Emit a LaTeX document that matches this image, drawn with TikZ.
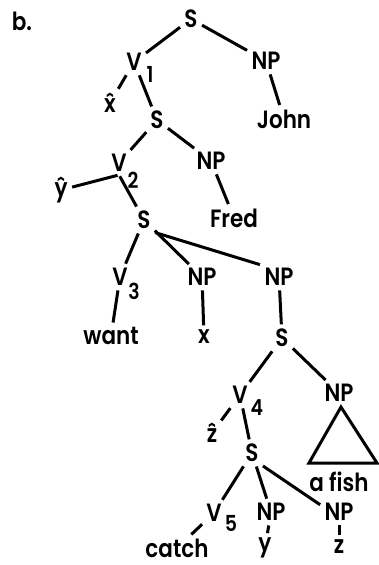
\documentclass[tikz,border=0pt]{standalone}
\usepackage{fontspec}
\setmainfont{Poppins SemiBold}[FakeStretch=0.86]
\newcommand{\hatted}[1]{\accent"02C6 #1}
\begin{document}
\begin{tikzpicture}[x=1pt,y=-1pt,
  lab/.style={inner sep=3pt,font=\fontsize{25}{27}\selectfont},
  sub/.style={inner sep=1pt,font=\fontsize{22}{24}\selectfont},
  edge/.style={line width=3pt,shorten <=1.5pt,shorten >=1.5pt}]
\useasboundingbox (0,0) rectangle (379,565);
\node[lab] (b) at (22,21) {b.};
\node[lab] (s1) at (191,19) {S};
\node[lab] (v1) at (134,62) {V};
\node[sub] (v1s) at (150,74) {1};
\node[lab] (np1) at (266,61) {NP};
\node[lab] (xh) at (110,103) {\hatted{x}};
\node[lab] (john) at (284,119) {John};
\node[lab] (s2) at (157,120) {S};
\node[lab] (v2) at (119,163) {V};
\node[sub] (v2s) at (133,180) {2};
\node[lab] (np2) at (211,161) {NP};
\node[lab] (yh) at (61,190) {\hatted{y}};
\node[lab] (fred) at (234,218) {Fred};
\node[lab] (s3) at (144,220) {S};
\node[lab] (v3) at (120,277) {V};
\node[sub] (v3s) at (134,291) {3};
\node[lab] (np3) at (202,277) {NP};
\node[lab] (np4) at (279,277) {NP};
\node[lab] (want) at (111,336) {want};
\node[lab] (xx) at (204,337) {x};
\node[lab] (s4) at (282,338) {S};
\node[lab] (v4) at (240,395) {V};
\node[sub] (v4s) at (257,408) {4};
\node[lab] (np5) at (339,393) {NP};
\node[lab] (zh) at (212,433) {\hatted{z}};
\node[lab] (s5) at (252,453) {S};
\node[lab] (afish) at (339,482) {a fish};
\node[lab] (v5) at (214,513) {V};
\node[sub] (v5s) at (231,523) {5};
\node[lab] (np6) at (271,512) {NP};
\node[lab] (np7) at (339,512) {NP};
\node[lab] (catch) at (177,548) {catch};
\node[lab] (yy) at (265,548) {y};
\node[lab] (zz) at (339,547) {z};
\coordinate (ta) at (341,407);
\coordinate (tl) at (309,463);
\coordinate (tr) at (377,463);
\draw[edge] (s1) -- (v1);
\draw[edge] (s1) -- (np1);
\draw[edge] (v1) -- (xh);
\draw[edge] (v1) -- (s2);
\draw[edge] (np1) -- (john);
\draw[edge] (s2) -- (v2);
\draw[edge] (s2) -- (np2);
\draw[edge] (v2.south) -- (yh);
\draw[edge] (v2.south) -- (s3);
\draw[edge] (np2) -- (fred);
\draw[edge] (s3) -- (v3);
\draw[edge] (s3) -- (np3);
\draw[edge] (s3.south east) -- (np4.north west);
\draw[edge] (v3) -- (want);
\draw[edge] (np3) -- (xx);
\draw[edge] (np4) -- (s4);
\draw[edge] (s4) -- (v4);
\draw[edge] (s4) -- (np5);
\draw[edge] (v4) -- (zh);
\draw[edge] (v4) -- (s5);
\draw[edge] (s5) -- (v5);
\draw[edge] (s5) -- (np6);
\draw[edge] (s5.south east) -- (np7.160);
\draw[edge] (v5) -- (catch);
\draw[edge] (np6) -- (yy);
\draw[edge] (np7) -- (zz);
\draw[line width=3pt,line join=miter] (ta) -- (tl) -- (tr) -- cycle;
\end{tikzpicture}
\end{document}
